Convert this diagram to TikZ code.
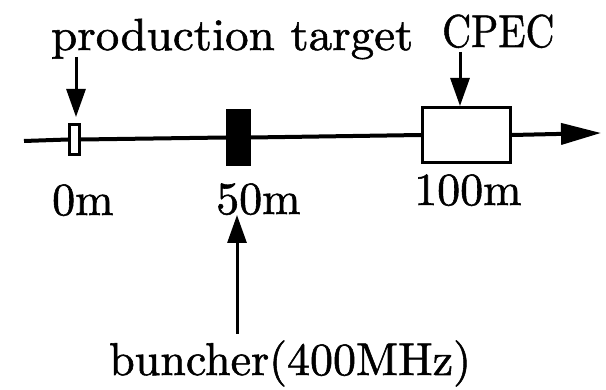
\documentclass[tikz,border=0pt]{standalone}
\usepackage{fontspec}
\setmainfont{lmroman10-regular.otf}[FakeBold=1.2]
\usetikzlibrary{arrows.meta}
\newcommand\lblsize[1]{\fontsize{#1}{#1}\selectfont}
\begin{document}
\begin{tikzpicture}[x=1pt,y=-1pt,
  lbl/.style={inner sep=0pt,anchor=base west},
  beam/.style={line width=4pt},
  ptr/.style={line width=3pt,-{Triangle[length=28pt,width=19pt]}},
  mainarr/.style={line width=4pt,-{Triangle[length=40pt,width=21pt]}},
  openbox/.style={draw,line width=3pt,inner sep=0pt,fill=white},
  solidbox/.style={draw,fill=black,line width=1pt,inner sep=0pt}]
\useasboundingbox (0,0) rectangle (606,390);
% labels
\node[lbl] (ptl) at (51,50) {\lblsize{45}\scalebox{1.045}[1]{production target}};
\node[lbl] (cpecl) at (442,47) {\lblsize{46}\scalebox{0.87}[1]{CPEC}};
\node[lbl] (l0) at (52,215) {\lblsize{46}0m};
\node[lbl] (l50) at (216,214) {\lblsize{46}50m};
\node[lbl] (l100) at (414,205) {\lblsize{46}100m};
\node[lbl] (bunl) at (109,375) {\lblsize{46}buncher(400MHz)};
% beam elements
\node[openbox,minimum width=10pt,minimum height=30pt] (tgt) at (74.5,139.5) {};
\node[solidbox,minimum width=24pt,minimum height=56pt] (bun) at (238.5,137.5) {};
\node[openbox,minimum width=88pt,minimum height=55pt] (cpec) at (466.5,135) {};
% beam line
\coordinate (start) at (24,141);
\coordinate (finish) at (601,133);
\draw[beam] (start) -- (tgt.west);
\draw[beam] (tgt.east) -- (bun.west);
\draw[beam] (bun.east) -- (cpec.west);
\draw[mainarr] (cpec.east) -- (finish);
% pointers
\coordinate (ptarr) at (76,57);
\coordinate (ptend) at (76,117);
\draw[ptr] (ptarr) -- (ptend);
\coordinate (cparr) at (460,52);
\draw[ptr] (cparr) -- (cparr |- cpec.north);
\coordinate (bunarr) at (237,334);
\coordinate (buntip) at (237,215);
\draw[ptr] (bunarr) -- (buntip);
\end{tikzpicture}
\end{document}
